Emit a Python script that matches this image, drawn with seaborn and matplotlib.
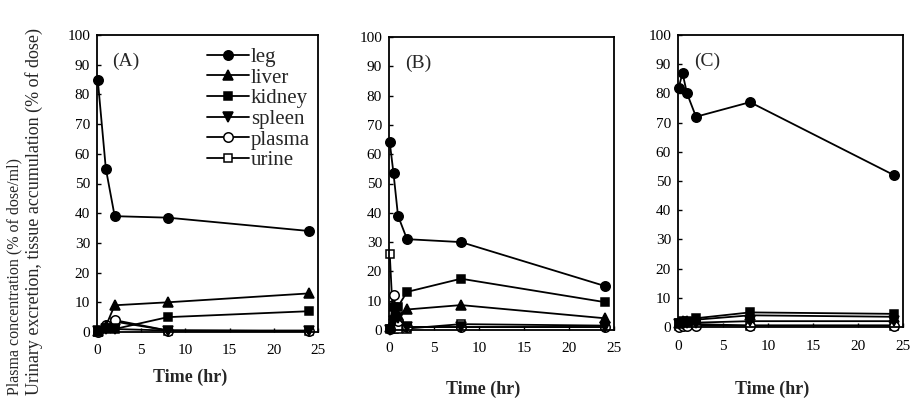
import matplotlib
matplotlib.use("Agg")
import matplotlib.pyplot as plt
import seaborn as sns
import pandas as pd

# time points (hr)
time_a = [0.083, 1, 2, 8, 24]
time_b = [0.083, 0.5, 1, 2, 8, 24]
time_c = [0.083, 0.5, 1, 2, 8, 24]

# panel A
leg_a = [85, 55, 39, 38.5, 34]
liver_a = [0.5, 2, 9, 10, 13]
kidney_a = [0.3, 1.5, 1, 5, 7]
spleen_a = [0.2, 1, 1, 0.5, 0.5]
plasma_a = [0, 2.5, 4, 0.5, 0.3]
urine_a = [0, 1, 3.5, 0.5, 0.3]

# panel B
leg_b = [64, 53.5, 39, 31, 30, 15]
liver_b = [1, 5, 5, 7, 8.5, 4]
kidney_b = [0.5, 8, 8, 13, 17.5, 9.5]
spleen_b = [0, 3, 4, 1, 1, 1]
plasma_b = [0.5, 12, 3, 1, 1, 1]
urine_b = [26, 0.5, 0.5, 0.5, 2, 1.5]

# panel C
leg_c = [82, 87, 80, 72, 77, 52]
liver_c = [1.5, 2, 2, 2.5, 4, 3.5]
kidney_c = [1.5, 2, 2, 3, 5, 4.5]
spleen_c = [1, 1, 1.5, 1.5, 2, 2]
plasma_c = [0, 0.5, 0.5, 0.5, 0.5, 0.5]
urine_c = [0.3, 0.5, 1, 1, 0.5, 0.5]

series_names = ["leg", "liver", "kidney", "spleen", "plasma", "urine"]
markers = {"leg": "o", "liver": "^", "kidney": "s", "spleen": "v", "plasma": "o", "urine": "s"}
filled = {"leg": True, "liver": True, "kidney": True, "spleen": True, "plasma": False, "urine": False}

panels = [
    ("(A)", time_a, [leg_a, liver_a, kidney_a, spleen_a, plasma_a, urine_a]),
    ("(B)", time_b, [leg_b, liver_b, kidney_b, spleen_b, plasma_b, urine_b]),
    ("(C)", time_c, [leg_c, liver_c, kidney_c, spleen_c, plasma_c, urine_c]),
]

sns.set_style("ticks")
plt.rcParams["font.family"] = ["Liberation Serif", "DejaVu Serif"]

fig = plt.figure(figsize=(9.11, 4.03), dpi=100)
W, H = 911, 403
boxes = [(97, 318, 35, 332), (389, 614, 37, 330), (678, 903, 35, 327)]
xlabel_y = [-0.125, -0.172, -0.183]

for (label, times, values), (l, r, t, b), ly in zip(panels, boxes, xlabel_y):
    ax = fig.add_axes([l / W, 1 - b / H, (r - l) / W, (b - t) / H])
    # draw in reverse so leg ends on top
    for name, vals in reversed(list(zip(series_names, values))):
        df = pd.DataFrame({"Time": times, "Value": vals})
        sns.lineplot(data=df, x="Time", y="Value", ax=ax, color="black",
                     marker=markers[name], markersize=6.8 if markers[name] != "s" else 6.2,
                     markeredgecolor="black", markeredgewidth=1.1,
                     markerfacecolor="black" if filled[name] else "white",
                     linewidth=1.3, label=name, errorbar=None, sort=False,
                     clip_on=False)
    ax.set_xlim(0, 25)
    ax.set_ylim(0, 100)
    ax.set_xticks([0, 5, 10, 15, 20, 25])
    ax.set_yticks(range(0, 101, 10))
    ax.tick_params(direction="in", length=3, width=1, labelsize=11, pad=5, colors="black")
    ax.tick_params(axis="x", pad=9)
    for sp in ax.spines.values():
        sp.set_linewidth(1.3)
        sp.set_color("black")
    ax.set_xlabel("Time (hr)", fontsize=13, fontweight="bold")
    ax.xaxis.set_label_coords(0.42, ly)
    ax.set_ylabel("")
    ax.text(0.07, 0.94, label, transform=ax.transAxes, fontsize=14, va="top", ha="left")
    if label == "(A)":
        h, lab = ax.get_legend_handles_labels()
        order = [lab.index(n) for n in series_names]
        ax.legend([h[i] for i in order], [lab[i] for i in order], loc="upper right",
                  frameon=False, fontsize=15, handlelength=2.0, handletextpad=0.1,
                  labelspacing=0.05, borderaxespad=0.2, bbox_to_anchor=(1.02, 1.0))
    elif ax.legend_ is not None:
        ax.legend_.remove()

fig.text(14 / W, 8 / H, "Plasma concentration (% of dose/ml)", rotation=90,
         ha="center", va="bottom", fontsize=11.5)
fig.text(34 / W, 8 / H, "Urinary excretion, tissue accumulation (% of dose)", rotation=90,
         ha="center", va="bottom", fontsize=13)

fig.savefig("out.png", dpi=100)
